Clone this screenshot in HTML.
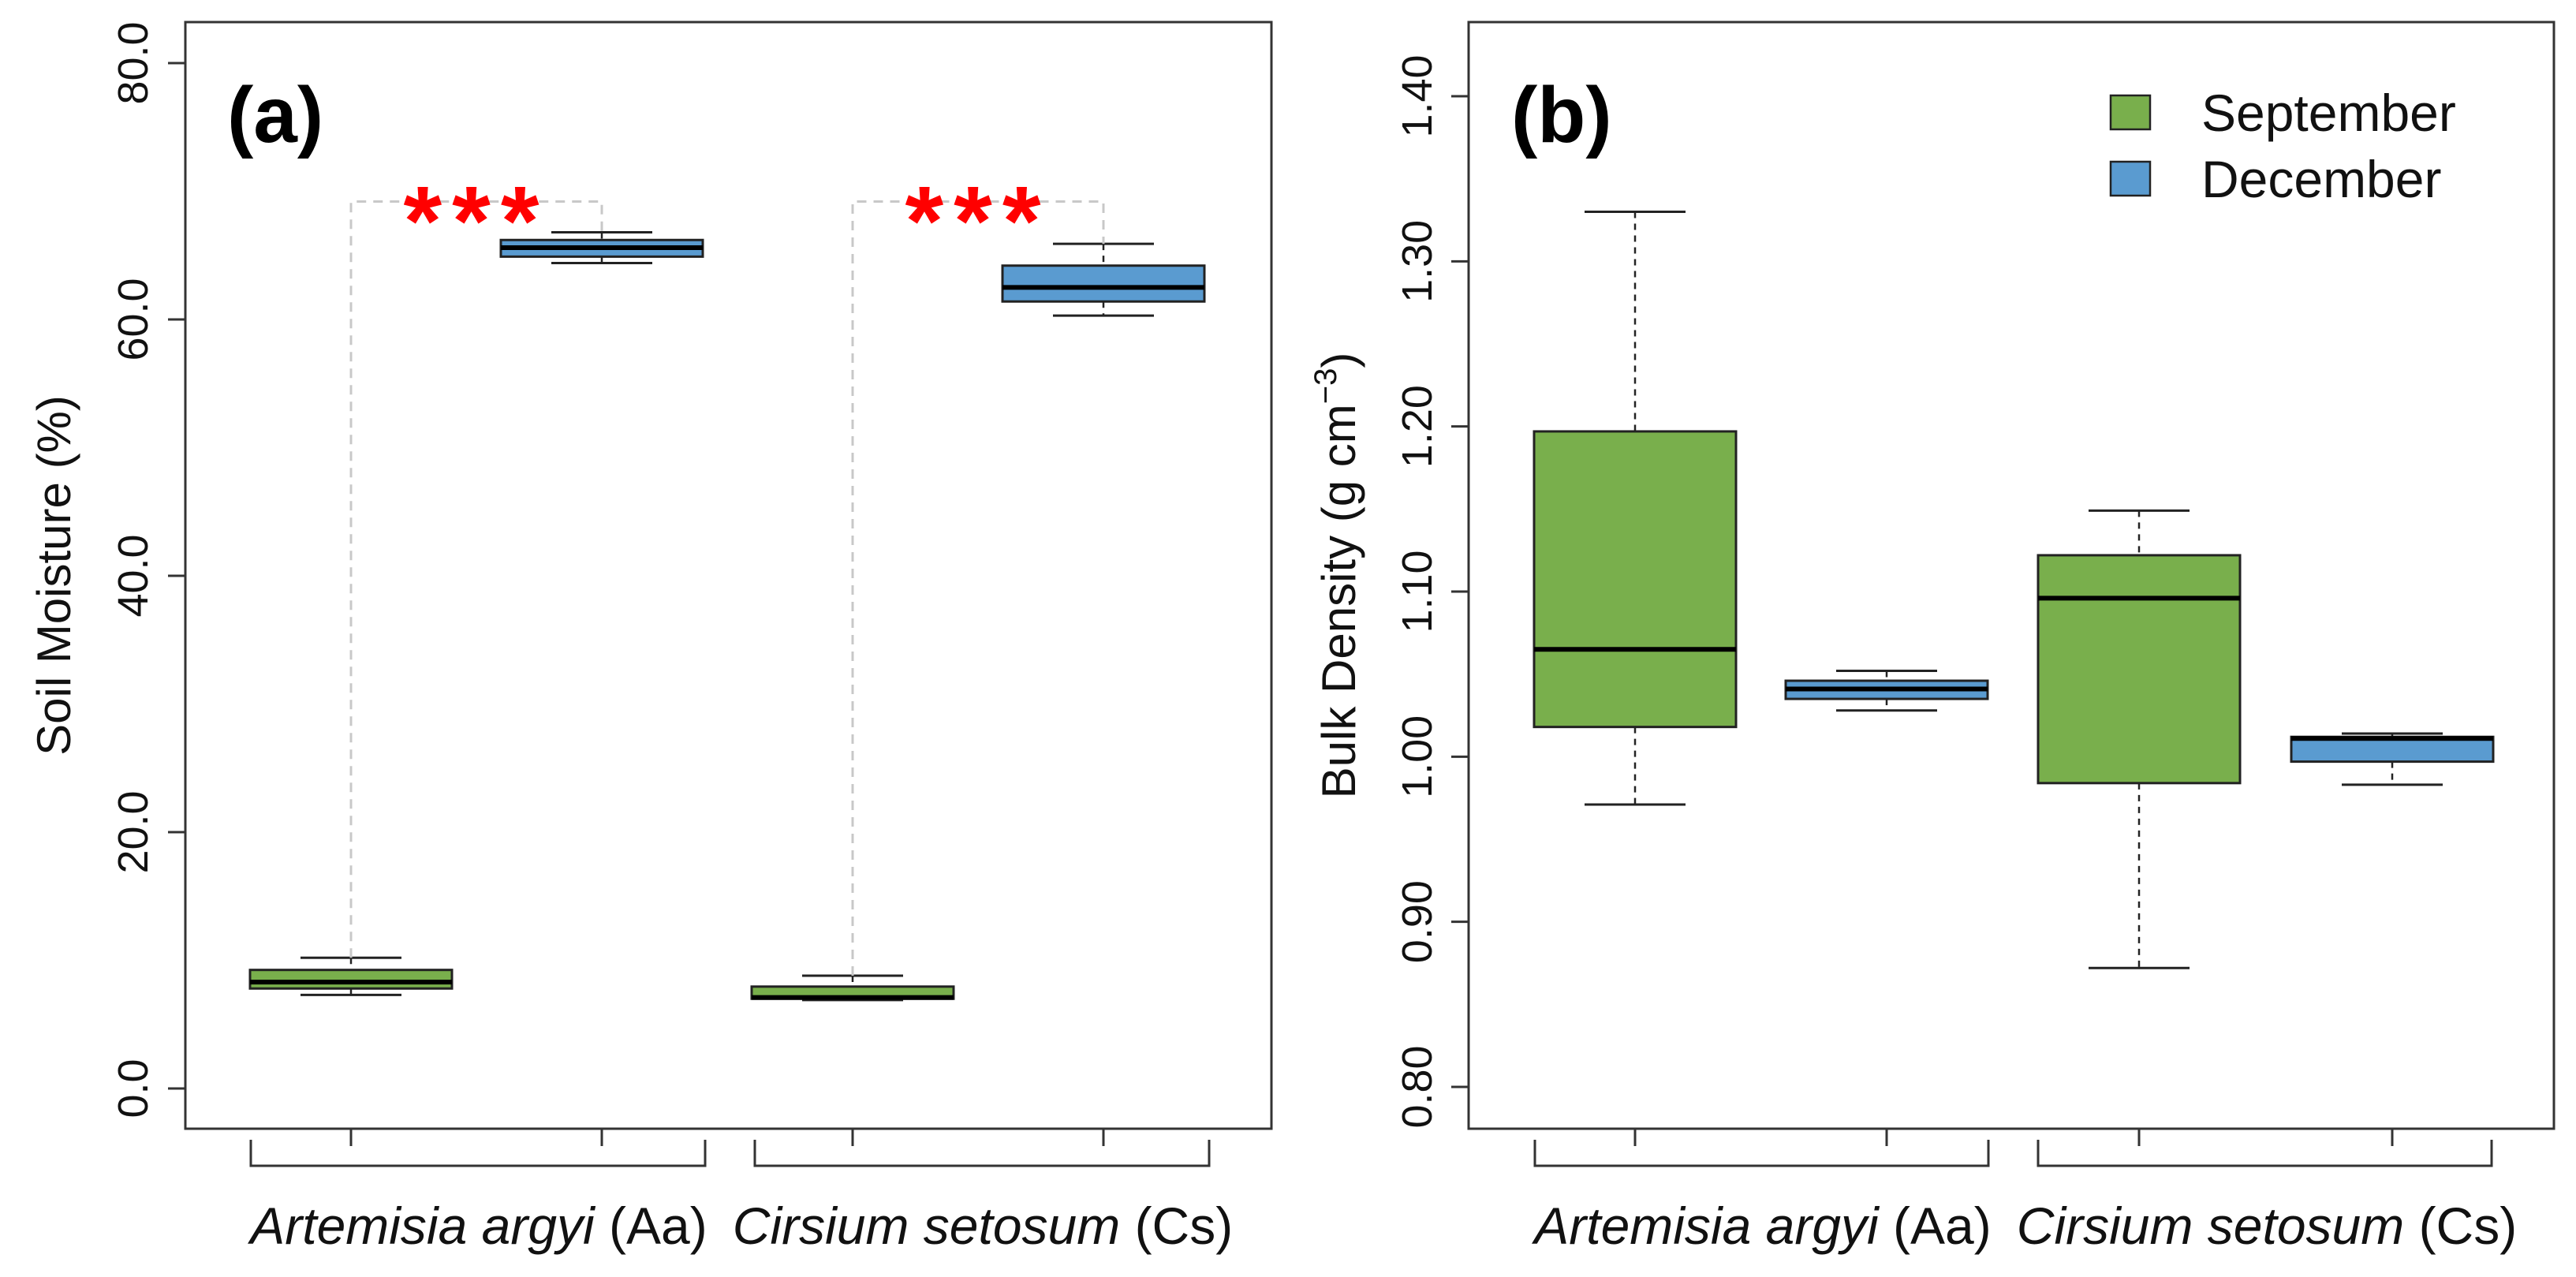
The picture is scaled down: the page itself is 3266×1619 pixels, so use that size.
<!DOCTYPE html>
<html><head><meta charset="utf-8"><style>
html,body{margin:0;padding:0;background:#fff;}
svg{display:block;font-family:"Liberation Sans",Arial,sans-serif;}
</style></head><body>
<svg id="chart" width="3266" height="1619" viewBox="0 0 3266 1619" xmlns="http://www.w3.org/2000/svg">
<rect x="0" y="0" width="3266" height="1619" fill="#fff"/>
</svg>
<script>
const groupsA = ["Artemisia argyi", "Cirsium setosum"];
const groupAbbr = ["(Aa)", "(Cs)"];
const months = ["September", "December"];
// box stats [whiskerLow, Q1, median, Q3, whiskerHigh]
const moistureAaSep = [7.3, 7.8, 8.3, 9.25, 10.2];
const moistureAaDec = [64.4, 64.9, 65.6, 66.2, 66.8];
const moistureCsSep = [6.9, 7.0, 7.1, 7.95, 8.8];
const moistureCsDec = [60.3, 61.4, 62.5, 64.2, 65.9];
const densityAaSep = [0.971, 1.018, 1.065, 1.197, 1.330];
const densityAaDec = [1.028, 1.035, 1.041, 1.046, 1.052];
const densityCsSep = [0.872, 0.984, 1.096, 1.122, 1.149];
const densityCsDec = [0.983, 0.997, 1.011, 1.012, 1.014];
const moistureTicks = [0, 20, 40, 60, 80];
const moistureTickLabels = ["0.0", "20.0", "40.0", "60.0", "80.0"];
const densityTicks = [0.8, 0.9, 1.0, 1.1, 1.2, 1.3, 1.4];
const densityTickLabels = ["0.80", "0.90", "1.00", "1.10", "1.20", "1.30", "1.40"];
const sigLevel = [69.2, 69.2];
const sigLabels = ["***", "***"];

const NS = "http://www.w3.org/2000/svg";
const svg = document.getElementById("chart");
const GREEN = "#79AF4C", BLUE = "#5A9BD0";
function mk(tag, attrs, parent, text) {
  const e = document.createElementNS(NS, tag);
  for (const k in attrs) e.setAttribute(k, attrs[k]);
  if (text !== undefined) e.textContent = text;
  (parent || svg).appendChild(e);
  return e;
}

const panels = [
  {id:"a", left:235, right:1612, top:28, bottom:1431, vmin:0, vmax:80, ytop:80, ybot:1380,
   xs:[445,763,1081,1399], data:[moistureAaSep, moistureAaDec, moistureCsSep, moistureCsDec],
   ticks:moistureTicks, tickLabels:moistureTickLabels, tickX:167, ylabX:67, ylab:"Soil Moisture (%)",
   brackets:[[318,894],[957,1533]], labX:[607,1246], tag:"(a)", tagX:288},
  {id:"b", left:1862, right:3238, top:28, bottom:1431, vmin:0.8, vmax:1.4, ytop:122, ybot:1378,
   xs:[2073,2392,2712,3033], data:[densityAaSep, densityAaDec, densityCsSep, densityCsDec],
   ticks:densityTicks, tickLabels:densityTickLabels, tickX:1795, ylabX:1696, ylab:"Bulk Density",
   brackets:[[1946,2521],[2584,3159]], labX:[2235,2874], tag:"(b)", tagX:1916}
];

panels.forEach(p => {
  const g = mk("g", {});
  
  
  const y = v => p.ybot - (v - p.vmin) / (p.vmax - p.vmin) * (p.ybot - p.ytop);
  const frame = mk("rect", {x:p.left, y:p.top, width:p.right-p.left, height:p.bottom-p.top, fill:"none", stroke:"#333", "stroke-width":3}, g);
  
  
  p.ticks.forEach((t, i) => {
    const ty = y(t);
    const tk = mk("line", {x1:p.left-22, x2:p.left, y1:ty, y2:ty, stroke:"#333", "stroke-width":3}, g);
    
    
    const tl = mk("text", {x:0, y:0, transform:`translate(${p.tickX+20},${ty}) rotate(-90)`, "text-anchor":"middle", "font-size":54, fill:"#111"}, g, p.tickLabels[i]);
    
    
  });
  const yl = mk("text", {x:0, y:0, transform:`translate(${p.ylabX+22},${(p.top+p.bottom)/2}) rotate(-90)`, "text-anchor":"middle", "font-size":60, fill:"#111"}, g);
  
  
  if (p.id === "b") {
    mk("tspan", {}, yl, "Bulk Density (g cm");
    mk("tspan", {dy:-24, "font-size":40}, yl, "\u22123");
    mk("tspan", {dy:24}, yl, ")");
  } else yl.textContent = p.ylab;
  p.xs.forEach(x => {
    const l = mk("line", {x1:x, x2:x, y1:p.bottom, y2:p.bottom+22, stroke:"#333", "stroke-width":3}, g);
    
    
  });
  p.brackets.forEach((b, i) => {
    const pb = mk("path", {d:`M${b[0]},1445 V1478 H${b[1]} V1445`, fill:"none", stroke:"#333", "stroke-width":3}, g);
    
    
    const t = mk("text", {x:p.labX[i], y:1577, "text-anchor":"middle", "font-size":66, fill:"#111"}, g);
    
    
    mk("tspan", {"font-style":"italic"}, t, groupsA[i]);
    mk("tspan", {}, t, " " + groupAbbr[i]);
  });
  p.data.forEach((d, i) => {
    const x = p.xs[i], hw = 128, cw = 64;
    const col = i % 2 === 0 ? GREEN : BLUE;
    const bg = mk("g", {}, g);
    
    
    mk("line", {x1:x, x2:x, y1:y(d[4]), y2:y(d[3]), stroke:"#222", "stroke-width":2.5, "stroke-dasharray":"8,7"}, bg);
    mk("line", {x1:x, x2:x, y1:y(d[1]), y2:y(d[0]), stroke:"#222", "stroke-width":2.5, "stroke-dasharray":"8,7"}, bg);
    mk("line", {x1:x-cw, x2:x+cw, y1:y(d[4]), y2:y(d[4]), stroke:"#222", "stroke-width":3}, bg);
    mk("line", {x1:x-cw, x2:x+cw, y1:y(d[0]), y2:y(d[0]), stroke:"#222", "stroke-width":3}, bg);
    mk("rect", {x:x-hw, y:y(d[3]), width:2*hw, height:Math.max(1, y(d[1])-y(d[3])), fill:col, stroke:"#222", "stroke-width":3}, bg);
    mk("line", {x1:x-hw, x2:x+hw, y1:y(d[2]), y2:y(d[2]), stroke:"#000", "stroke-width":6}, bg);
  });
  if (p.id === "a") {
    [0, 1].forEach(k => {
      const x1 = p.xs[2*k], x2 = p.xs[2*k+1];
      const sy = y(sigLevel[k]);
      const sg = mk("path", {d:`M${x1},${y(p.data[2*k][4])} V${sy} H${x2} V${y(p.data[2*k+1][4])}`, fill:"none", stroke:"#c8c8c8", "stroke-width":3, "stroke-dasharray":"12,9"}, g);
      
      
      const st = mk("text", {x:(x1+x2)/2, y:sy+68, "text-anchor":"middle", "font-size":125, "font-weight":"bold", fill:"#ff0000", "letter-spacing":"13"}, g, sigLabels[k]);
      
      
    });
  }
  const tg = mk("text", {x:p.tagX, y:180, "font-size":100, "font-weight":"bold", fill:"#000"}, g, p.tag);
  
  
});

const lg = mk("g", {});


months.forEach((m, i) => {
  const ly = 121 + i * 84;
  const sw = mk("rect", {x:2676, y:ly, width:50, height:43, fill:i===0?GREEN:BLUE, stroke:"#222", "stroke-width":2.5}, lg);
  
  
  const t = mk("text", {x:2791, y:ly+45, "font-size":66, fill:"#111"}, lg, m);
  
  
});
</script>
</body></html>
